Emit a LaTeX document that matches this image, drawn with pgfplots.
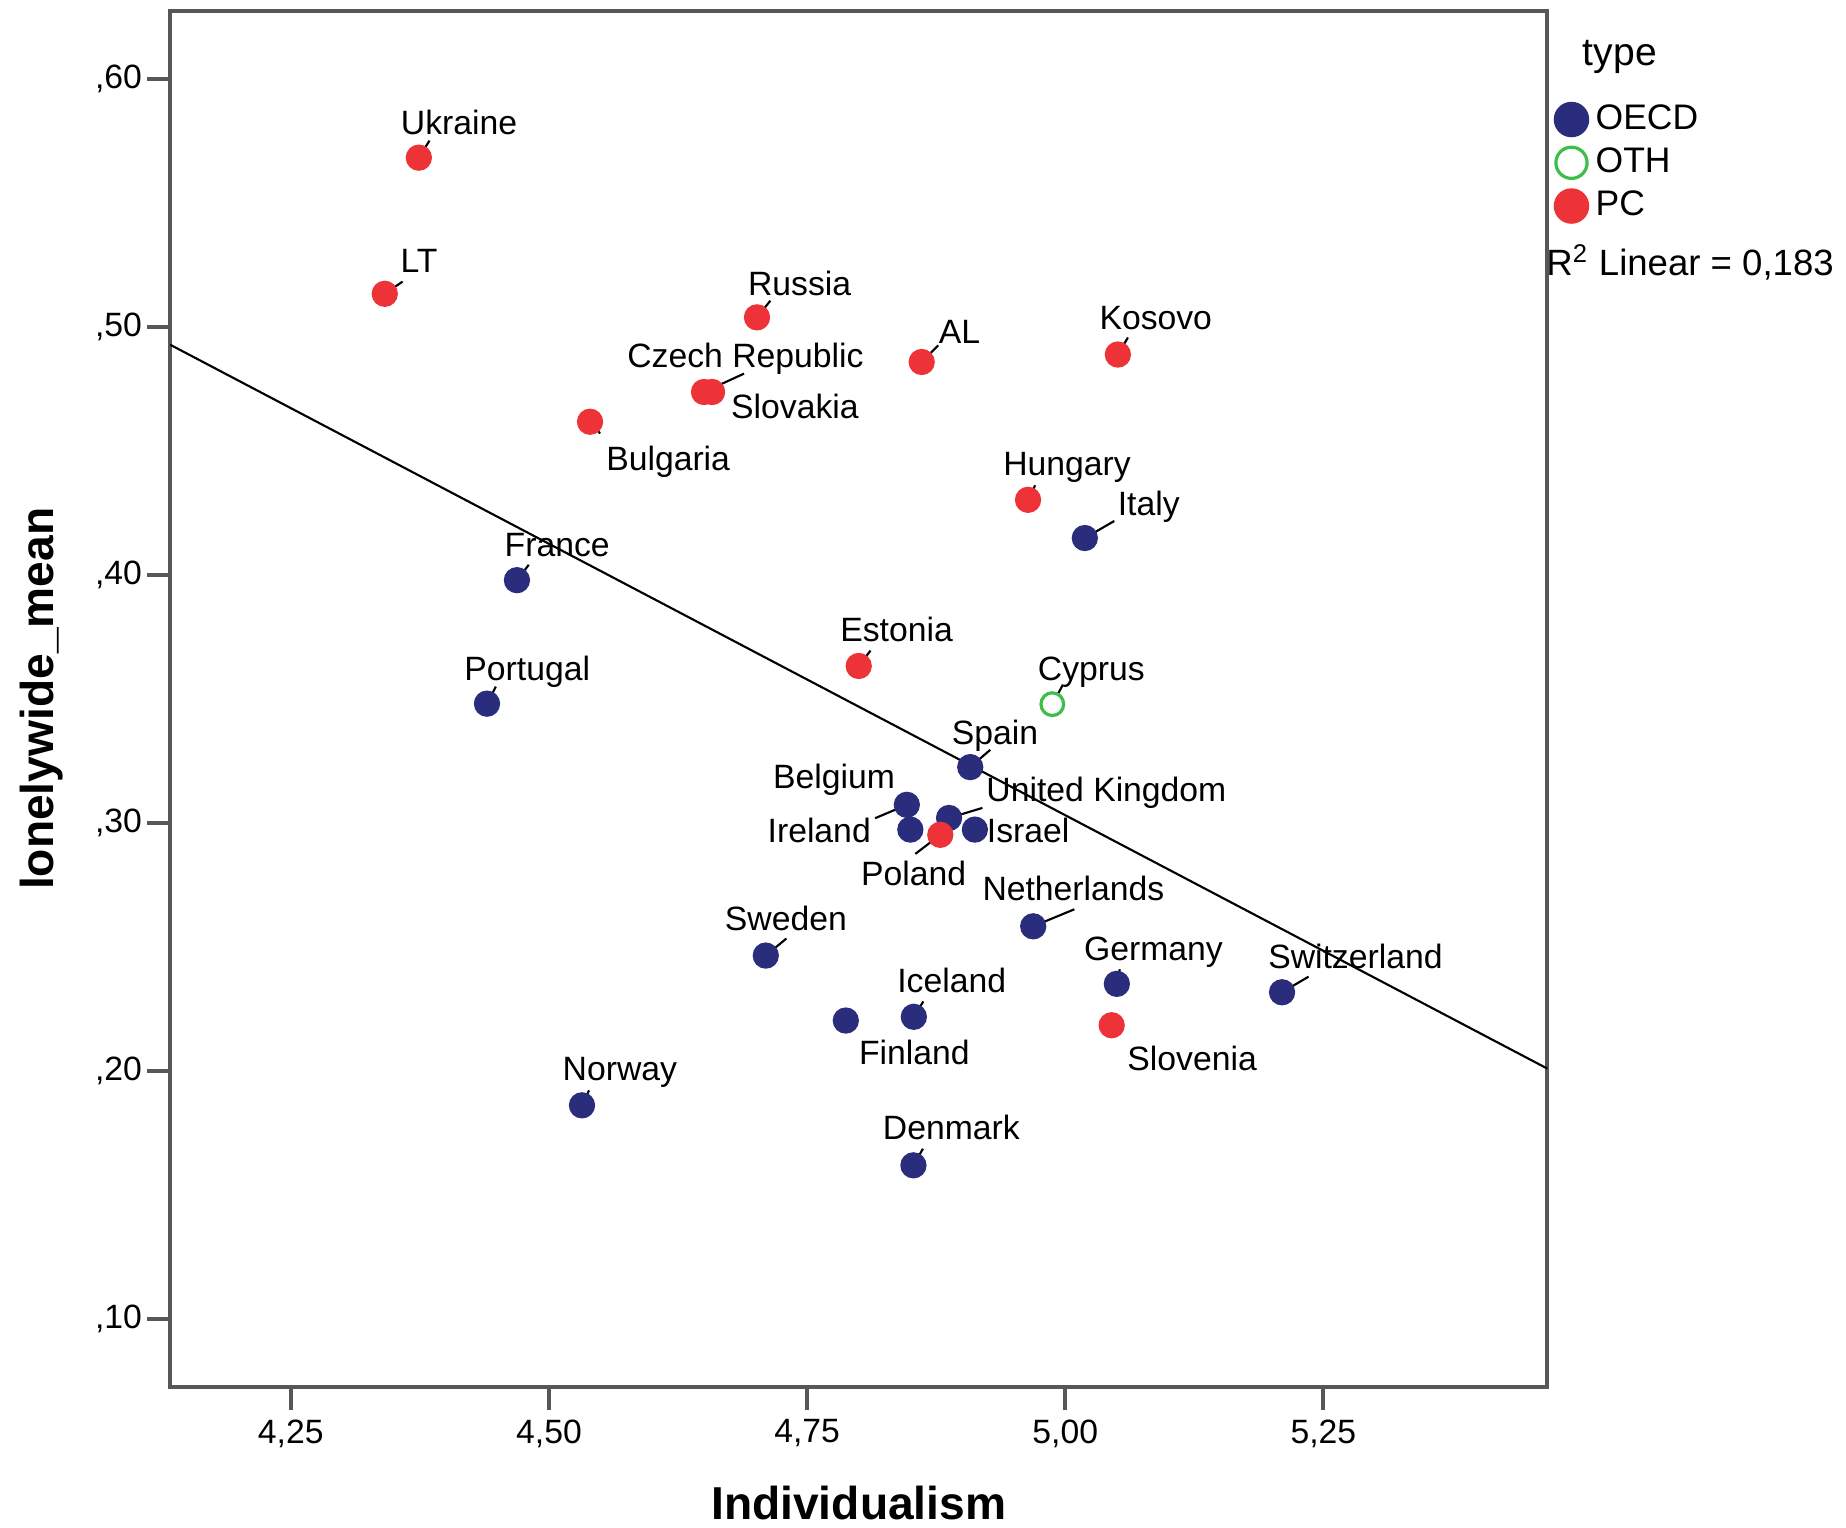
\documentclass[border=0pt]{standalone}
\usepackage{pgfplots}
\usepackage{pgfplotstable}
\pgfplotsset{compat=1.18}
\usepackage{fontspec}
\setmainfont{Liberation Sans}

\definecolor{oecd}{HTML}{2A2D7C}
\definecolor{pc}{HTML}{EE3338}
\definecolor{oth}{HTML}{3DBE4A}
\definecolor{frame}{HTML}{575757}

\newcommand{\labfont}{\fontsize{9.5}{11}\selectfont}

% x, y, label; label shift (lx,ly) and leader end (ex,ey) in pt
\pgfplotstableread[col sep=comma]{
x,y,name,lx,ly,ex,ey
4.469,0.3980,France,11.33,10.0,3.33,4.33
4.440,0.3482,Portugal,11.33,10.0,2.5,4.8
5.019,0.4150,Italy,18.0,9.83,8.3,4.8
4.908,0.3226,Spain,7.0,9.67,5.63,4.87
4.8466,0.3074,Belgium,-20.5,7.9,-8.93,-3.77
4.8875,0.3021,United Kingdom,44.33,8.0,9.4,2.83
4.850,0.2974,Ireland,-25.67,-0.33,0,0
4.9125,0.2974,Israel,15.0,-0.33,0,0
4.969,0.2584,Netherlands,11.33,10.67,11.6,4.8
4.710,0.2466,Sweden,5.67,10.33,5.8,4.8
5.050,0.2352,Germany,10.33,10.0,0.83,4.1
5.210,0.2318,Switzerland,20.67,10.0,7.47,4.4
4.7875,0.2204,Finland,19.33,-9.0,0,0
4.8534,0.2219,Iceland,10.67,10.33,2.67,4.33
4.532,0.1862,Norway,10.67,10.33,2.0,4.23
4.853,0.1620,Denmark,10.67,10.67,2.67,4.67
}\tabOECD

\pgfplotstableread[col sep=comma]{
x,y,name,lx,ly,ex,ey
4.9875,0.3480,Cyprus,11.0,10.0,3.0,5.5
}\tabOTH

\pgfplotstableread[col sep=comma]{
x,y,name,lx,ly,ex,ey
4.374,0.5684,Ukraine,11.33,10.0,3.0,4.8
4.341,0.5135,LT,9.67,9.33,5.0,3.43
4.7015,0.5040,Russia,12.0,9.67,3.77,4.7
4.861,0.4860,AL,10.67,8.67,4.67,4.67
5.051,0.4890,Kosovo,10.67,10.33,2.83,4.8
4.6502,0.4739,Czech Republic,11.67,10.33,11.27,5.17
4.658,0.4739,Slovakia,23.33,-4.0,0,0
4.5398,0.4619,Bulgaria,22.0,-10.33,2.83,-3.3
4.964,0.4304,Hungary,11.0,10.33,2.0,4.1
4.800,0.3634,Estonia,10.67,10.33,3.33,4.33
4.879,0.2953,Poland,-7.5,-10.83,-7.03,-5.37
5.045,0.2185,Slovenia,22.67,-9.33,0,0
}\tabPC

\pgfplotsset{
  % short leader from each point towards its label (pt -> data units)
  leader/.style={black, line width=0.6pt, no marks, forget plot,
    quiver={u=\thisrow{ex}*0.003438, v=\thisrow{ey}*0.0014318}},
  labelled/.style={
    only marks, mark=*,
    point meta=explicit symbolic,
    visualization depends on={\thisrow{lx}\as\lx},
    visualization depends on={\thisrow{ly}\as\ly},
    nodes near coords,
    every node near coord/.append style={anchor=center,
      xshift=\lx pt, yshift=\ly pt, text=black, inner sep=0pt,
      text height=6.8pt, text depth=0pt, font=\labfont},
  },
}

\begin{document}
\begin{tikzpicture}
\begin{axis}[
  at={(0,0)}, anchor=south west,
  scale only axis, width=388pt, height=387.7pt,
  xmin=4.133, xmax=5.467, ymin=0.0726, ymax=0.6277,
  xtick={4.25,4.5,4.75,5,5.25},
  xticklabels={{4,25},{4,50},{4,75},{5,00},{5,25}},
  ytick={0.1,0.2,0.3,0.4,0.5,0.6},
  yticklabels={{,10},{,20},{,30},{,40},{,50},{,60}},
  xtick pos=bottom, ytick pos=left, tick align=outside,
  major tick length=6.5pt,
  tick style={draw=frame, line width=1.1pt},
  axis line style={draw=frame, line width=1.1pt},
  ticklabel style={font=\labfont},
  yticklabel style={anchor=east, inner sep=0pt, xshift=-1.2pt},
  xticklabel style={anchor=north, inner sep=0pt, yshift=-2.5pt},
  xlabel={Individualism},
  ylabel={lonelywide\_mean},
  xlabel style={at={(axis description cs:0.5,-0.0959)}, anchor=base,
    font=\bfseries\fontsize{13}{15}\selectfont},
  ylabel style={at={(axis description cs:-0.0846,0.5)}, anchor=base,
    font=\bfseries\fontsize{13}{15}\selectfont},
  legend style={at={(axis description cs:1.0046,0.9375)}, anchor=north west,
    draw=none, fill=none, inner sep=0pt, row sep=-0.3pt,
    font=\fontsize{10}{12}\selectfont},
  legend cell align=left,
]
\addplot[leader] table[x=x, y=y] {\tabOECD};
\addplot[leader] table[x=x, y=y] {\tabOTH};
\addplot[leader] table[x=x, y=y] {\tabPC};

\addplot[labelled, mark size=3.5pt, mark options={draw=oecd, fill=oecd},
  legend image code/.code={\draw[mark=*, mark size=4.8pt,
    mark options={draw=oecd, fill=oecd}] plot coordinates {(0pt,0pt)};}]
  table[x=x, y=y, meta=name] {\tabOECD};
\addlegendentry{OECD}
\addplot[labelled, mark size=3.2pt, mark options={draw=oth, fill=white, line width=0.9pt},
  legend image code/.code={\draw[mark=*, mark size=4.4pt,
    mark options={draw=oth, fill=white, line width=0.9pt}] plot coordinates {(0pt,0pt)};}]
  table[x=x, y=y, meta=name] {\tabOTH};
\addlegendentry{OTH}
\addplot[labelled, mark size=3.5pt, mark options={draw=pc, fill=pc},
  legend image code/.code={\draw[mark=*, mark size=4.8pt,
    mark options={draw=pc, fill=pc}] plot coordinates {(0pt,0pt)};}]
  table[x=x, y=y, meta=name] {\tabPC};
\addlegendentry{PC}
% fit line
\addplot[black, line width=0.6pt, forget plot] coordinates {(4.133,0.493) (5.467,0.201)};
\end{axis}
\node[anchor=base west, inner sep=0pt, font=\fontsize{11}{13}\selectfont] at (397.8pt,372.3pt) {type};
\node[anchor=base west, inner sep=0pt, font=\fontsize{10.3}{12}\selectfont] at (387.5pt,313pt) {R\textsuperscript{2} Linear = 0,183};
\pgfresetboundingbox
\path (-47.89pt,-39.44pt) rectangle (472.11pt,390.71pt);
\end{tikzpicture}
\end{document}
